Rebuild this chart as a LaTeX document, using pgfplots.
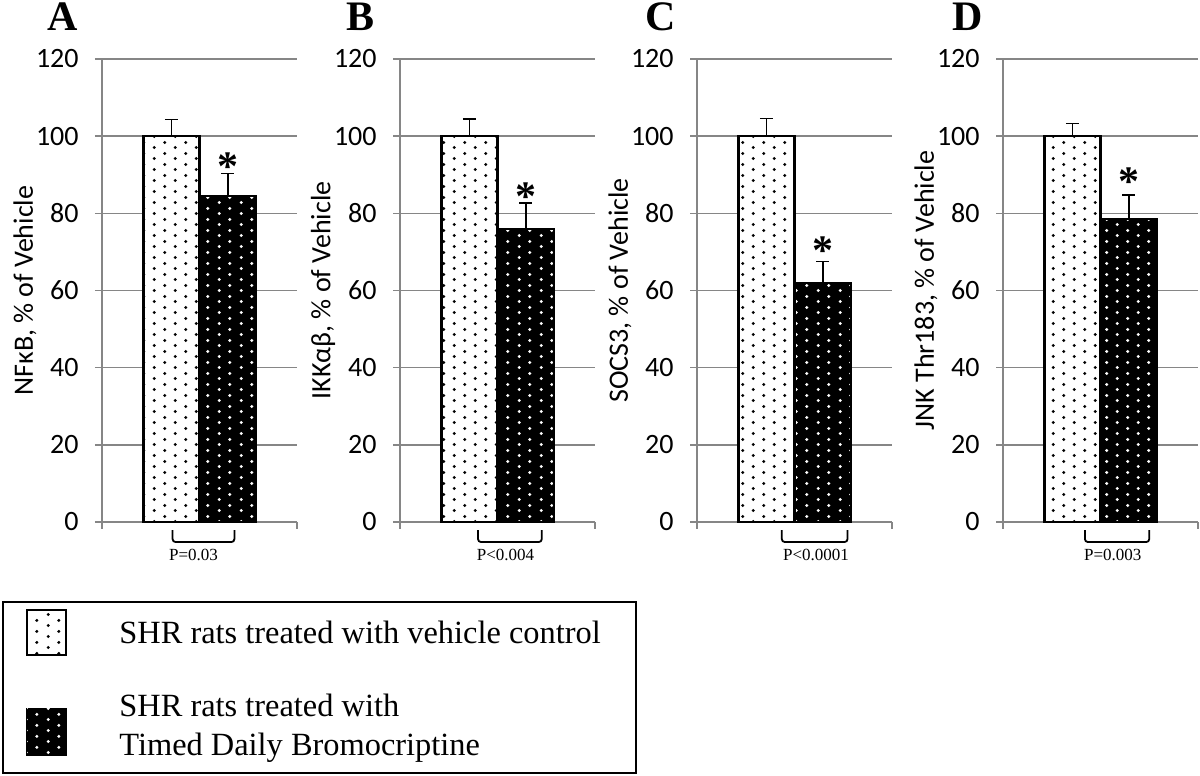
\documentclass[border=0pt]{standalone}
\usepackage{pgfplots}
\pgfplotsset{compat=1.18}
\usetikzlibrary{patterns.meta}
\usepackage{fontspec}
\setmainfont{Liberation Serif}
\newfontfamily\carlito{Carlito}
\definecolor{gridgray}{RGB}{134,134,134}

\pgfdeclarepattern{
  name=stagdots,
  type=uncolored,
  bottom left={\pgfpoint{0pt}{0pt}},
  top right={\pgfpoint{10.7pt}{5.25pt}},
  tile size={\pgfpoint{10.7pt}{5.25pt}},
  code={
    \pgfpathcircle{\pgfpoint{2.675pt}{1.3125pt}}{0.85pt}
    \pgfpathcircle{\pgfpoint{8.025pt}{3.9375pt}}{0.85pt}
    \pgfusepath{fill}
  }
}

\pgfplotsset{
  panel/.style={
    scale only axis, width=97.5pt, height=231.5pt,
    xmin=0, xmax=1, ymin=0, ymax=120,
    ytick={0,20,...,120}, xtick={0,1}, xticklabels={},
    axis y line*=left, axis x line*=bottom,
    axis line style={gridgray, line width=0.8pt, -},
    tick style={gridgray, line width=0.8pt},
    tick align=outside, major tick length=3.5pt,
    ymajorgrids, grid style={gridgray, line width=0.8pt},
    /pgf/number format/assume math mode=true,
    yticklabel style={font=\carlito\fontsize{14}{16}\selectfont, inner sep=0pt, xshift=-8pt},
    every axis y label/.style={at={(axis description cs:-0.395,0.5)}, rotate=90, anchor=center, font=\carlito\fontsize{14}{16}\selectfont},
    clip=false,
    anchor=south west,
  },
  whitebar/.style={ybar, bar shift=0pt, bar width=0.288, fill=white, draw=black, line width=1.2pt,
    postaction={pattern=stagdots, pattern color=black},
    error bars/.cd, y dir=plus, y explicit,
    error bar style={black, line width=0.8pt},
    error mark options={black, rotate=90, mark size=3.25pt, line width=0.8pt}},
  blackbar/.style={ybar, bar shift=0pt, bar width=0.288, fill=black, draw=black, line width=1.2pt,
    postaction={pattern=stagdots, pattern color=white},
    error bars/.cd, y dir=plus, y explicit,
    error bar style={black, line width=0.8pt},
    error mark options={black, rotate=90, mark size=3.25pt, line width=0.8pt}},
}
\newcommand{\starfont}{\bfseries\fontsize{21}{23}\selectfont}
\newcommand{\pfont}{\fontsize{8.5}{10}\selectfont}

\begin{document}
\begin{tikzpicture}[x=1pt,y=1pt]
\useasboundingbox (0,0) rectangle (600,388);

% Panel A
\begin{axis}[panel, at={(51pt,127pt)}, ylabel={NFκB, \% of Vehicle}]
\addplot[whitebar] coordinates {(0.356,100) +- (0,4.3)};
\addplot[blackbar] coordinates {(0.645,84.5) +- (0,5.8)};
\node[font=\starfont, anchor=base, inner sep=0pt] at (axis cs:0.645,88.5) {*};
\draw[black, line width=0.9pt, rounded corners=1.5pt] (axis cs:0.362,-2.1) -- (axis cs:0.362,-5.2) -- (axis cs:0.679,-5.2) -- (axis cs:0.679,-2.1);
\node[font=\pfont] at (axis cs:0.469,-8.6) {P=0.03};
\end{axis}

% Panel B
\begin{axis}[panel, at={(200pt,127pt)}, ylabel={IKKαβ, \% of Vehicle}]
\addplot[whitebar] coordinates {(0.356,100) +- (0,4.5)};
\addplot[blackbar] coordinates {(0.645,76.0) +- (0,6.7)};
\node[font=\starfont, anchor=base, inner sep=0pt] at (axis cs:0.645,80.8) {*};
\draw[black, line width=0.9pt, rounded corners=1.5pt] (axis cs:0.40,-2.1) -- (axis cs:0.40,-5.2) -- (axis cs:0.727,-5.2) -- (axis cs:0.727,-2.1);
\node[font=\pfont] at (axis cs:0.541,-8.6) {P\textless0.004};
\end{axis}

% Panel C
\begin{axis}[panel, at={(348.5pt,127pt)}, ylabel={SOCS3, \% of Vehicle}]
\addplot[whitebar] coordinates {(0.356,100) +- (0,4.6)};
\addplot[blackbar] coordinates {(0.645,62.0) +- (0,5.5)};
\node[font=\starfont, anchor=base, inner sep=0pt] at (axis cs:0.645,66.8) {*};
\draw[black, line width=0.9pt, rounded corners=1.5pt] (axis cs:0.435,-2.1) -- (axis cs:0.435,-5.2) -- (axis cs:0.772,-5.2) -- (axis cs:0.772,-2.1);
\node[font=\pfont] at (axis cs:0.61,-8.6) {P\textless0.0001};
\end{axis}

% Panel D
\begin{axis}[panel, at={(501.5pt,127pt)}, ylabel={JNK Thr183, \% of Vehicle}]
\addplot[whitebar] coordinates {(0.356,100) +- (0,3.3)};
\addplot[blackbar] coordinates {(0.645,78.5) +- (0,6.2)};
\node[font=\starfont, anchor=base, inner sep=0pt] at (axis cs:0.645,84.6) {*};
\draw[black, line width=0.9pt, rounded corners=1.5pt] (axis cs:0.42,-2.1) -- (axis cs:0.42,-5.2) -- (axis cs:0.75,-5.2) -- (axis cs:0.75,-2.1);
\node[font=\pfont] at (axis cs:0.563,-8.6) {P=0.003};
\end{axis}

% Panel letters
\node[font=\bfseries\fontsize{21}{24}\selectfont, anchor=base] at (31.5,372.5) {A};
\node[font=\bfseries\fontsize{21}{24}\selectfont, anchor=base] at (180.5,372.5) {B};
\node[font=\bfseries\fontsize{21}{24}\selectfont, anchor=base] at (330.5,372.5) {C};
\node[font=\bfseries\fontsize{21}{24}\selectfont, anchor=base] at (484,372.5) {D};

% Legend
\draw[black, line width=1pt] (1.5,1.5) rectangle (318,87);
\draw[black, line width=1pt, fill=white, postaction={pattern=stagdots, pattern color=black}] (13.5,60.5) rectangle (33,83);
\draw[black, line width=1pt, fill=black, postaction={pattern=stagdots, pattern color=white}] (13.5,10.5) rectangle (33,33.5);
\node[font=\fontsize{16.2}{19}\selectfont, anchor=base west, inner sep=0pt] at (59.5,66) {SHR rats treated with vehicle control};
\node[font=\fontsize{16.2}{19}\selectfont, anchor=base west, inner sep=0pt] at (59.5,29.5) {SHR rats treated with};
\node[font=\fontsize{16.2}{19}\selectfont, anchor=base west, inner sep=0pt] at (59.5,10) {Timed Daily Bromocriptine};
\end{tikzpicture}
\end{document}
